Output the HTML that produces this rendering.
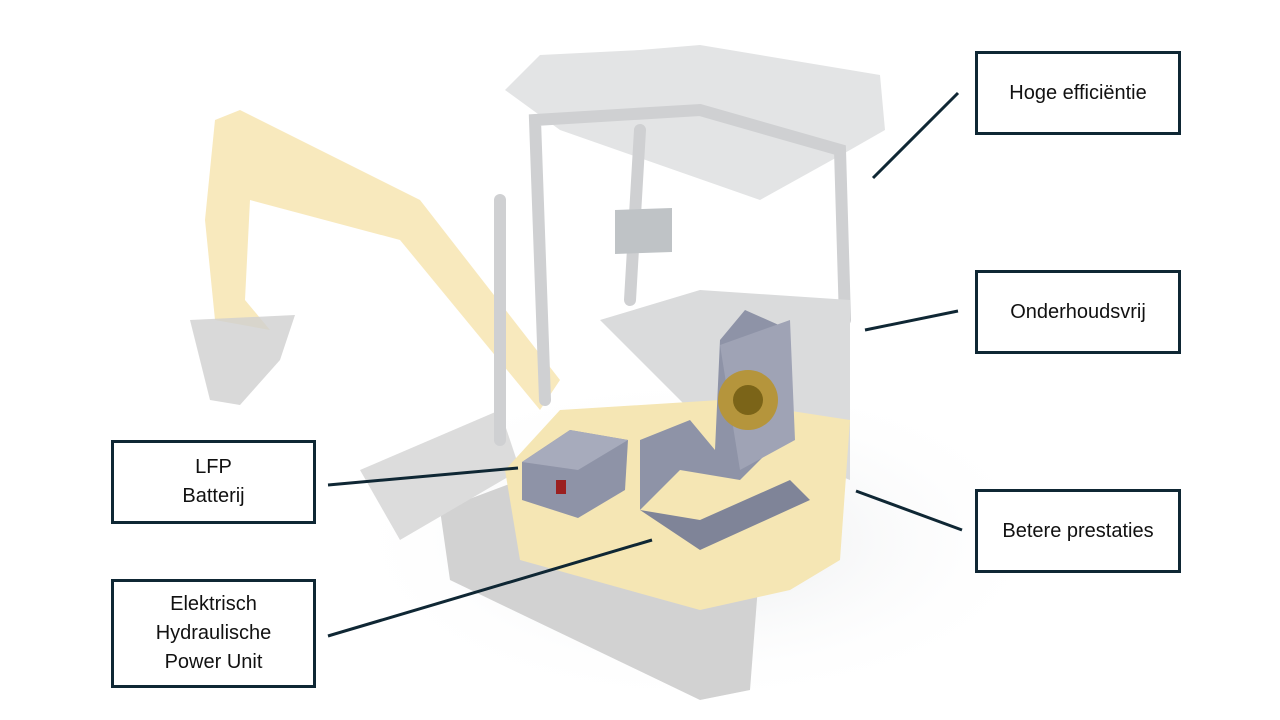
<!DOCTYPE html>
<html><head><meta charset="utf-8"><style>
body{margin:0;width:1280px;height:720px;background:#fff;overflow:hidden;position:relative;font-family:"Liberation Sans",sans-serif}
.box{position:absolute;border:3px solid #0f2734;background:#fff;display:flex;align-items:center;justify-content:center;text-align:center;font-size:20px;color:#111;line-height:29px;box-sizing:border-box}
svg{position:absolute;left:0;top:0}
</style></head><body>
<svg width="1280" height="720" viewBox="0 0 1280 720">
<defs><radialGradient id="sh" cx="0.5" cy="0.5" r="0.5"><stop offset="0" stop-color="#e8eaec"/><stop offset="1" stop-color="#fff" stop-opacity="0"/></radialGradient></defs>
<ellipse cx="700" cy="540" rx="360" ry="170" fill="url(#sh)"/>
<!-- arm -->
<path d="M215 120 L240 110 L420 200 L560 380 L540 410 L400 240 L250 200 L245 300 L270 330 L215 320 L205 220 Z" fill="#f6e4ac" opacity="0.8"/>
<path d="M190 320 L295 315 L280 360 L240 405 L210 400 Z" fill="#cfcfcf" opacity="0.8"/>
<!-- tracks -->
<path d="M440 510 L520 480 L760 560 L750 690 L700 700 L450 580 Z" fill="#d2d2d2"/>
<path d="M360 470 L500 410 L520 470 L400 540 Z" fill="#dcdcdc"/>
<!-- cab roof -->
<path d="M505 90 L540 55 L640 50 L700 45 L880 75 L885 130 L850 150 L760 200 L560 130 Z" fill="#e3e4e5"/>
<g stroke="#cfd0d2" stroke-width="12" fill="none" stroke-linecap="round">
<path d="M545 400 L535 120 L700 110 L840 150 L845 320"/>
<path d="M640 130 L630 300"/>
<path d="M500 200 L500 440"/>
</g>
<path d="M615 210 L672 208 L672 252 L615 254 Z" fill="#bfc3c6"/>
<path d="M600 320 L700 290 L850 300 L850 480 L700 420 Z" fill="#dadbdc"/>
<!-- body -->
<path d="M505 470 L560 410 L720 400 L850 420 L840 560 L790 590 L700 610 L520 560 Z" fill="#f5e6b4"/>
<!-- battery -->
<path d="M522 462 L570 430 L628 440 L625 490 L578 518 L522 500 Z" fill="#8e93a7"/>
<path d="M522 462 L570 430 L628 440 L578 470 Z" fill="#a7abbc"/>
<rect x="556" y="480" width="10" height="14" fill="#9b2020"/>
<!-- power unit -->
<path d="M640 510 L680 470 L740 480 L790 430 L790 330 L745 310 L720 340 L715 450 L690 420 L640 440 L640 470 Z" fill="#8e93a7"/>
<path d="M720 345 L790 320 L795 440 L740 470 Z" fill="#9fa3b5"/>
<circle cx="748" cy="400" r="30" fill="#b5953c"/>
<circle cx="748" cy="400" r="15" fill="#7b6418"/>
<path d="M640 510 L700 550 L810 500 L790 480 L700 520 Z" fill="#7f8498"/>
</svg>
<svg width="1280" height="720">
<g stroke="#0f2734" stroke-width="3">
<line x1="873" y1="178" x2="958" y2="93"/>
<line x1="865" y1="330" x2="958" y2="311"/>
<line x1="856" y1="491" x2="962" y2="530"/>
<line x1="328" y1="485" x2="518" y2="468"/>
<line x1="328" y1="636" x2="652" y2="540"/>
</g></svg>
<div class="box" style="left:975px;top:51px;width:206px;height:84px">Hoge efficiëntie</div>
<div class="box" style="left:975px;top:270px;width:206px;height:84px">Onderhoudsvrij</div>
<div class="box" style="left:975px;top:489px;width:206px;height:84px">Betere prestaties</div>
<div class="box" style="left:111px;top:440px;width:205px;height:84px">LFP<br>Batterij</div>
<div class="box" style="left:111px;top:579px;width:205px;height:109px">Elektrisch<br>Hydraulische<br>Power Unit</div>
</body></html>
